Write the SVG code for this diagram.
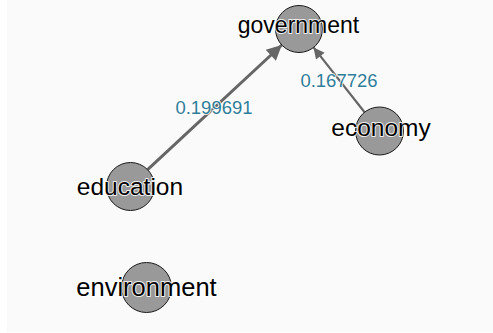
<svg xmlns="http://www.w3.org/2000/svg" width="493" height="333" viewBox="0 0 493 333">
<defs>
<marker id="ah1" viewBox="0 0 10 10" refX="10" refY="5" markerUnits="userSpaceOnUse" markerWidth="17" markerHeight="15" orient="auto">
<path d="M0,0 L10,5 L0,10 Z" fill="#666666"/>
</marker>
<marker id="ah2" viewBox="0 0 10 10" refX="10" refY="5" markerUnits="userSpaceOnUse" markerWidth="13" markerHeight="11" orient="auto">
<path d="M0,0 L10,5 L0,10 Z" fill="#666666"/>
</marker>
<style>
.node circle{fill:#999999;stroke:#1a1a1a;stroke-width:1}
.lbl{font-family:"Liberation Sans",Arial,sans-serif;fill:#000;text-anchor:middle;stroke:#ffffff;stroke-width:2;stroke-opacity:0.85;paint-order:stroke;stroke-linejoin:round}
.elbl{font-family:"Liberation Sans",Arial,sans-serif;fill:#2f7d99;font-size:18.5px;text-anchor:middle;stroke:#ffffff;stroke-width:2;stroke-opacity:0.85;paint-order:stroke;stroke-linejoin:round}
.edge{stroke:#666666;fill:none}
</style>
</defs>
<rect x="0" y="0" width="493" height="333" fill="#ffffff"/>
<rect x="7" y="0" width="486" height="332" fill="#fafafa"/>
<g id="connectors">
<line class="edge" x1="147.6" y1="169.7" x2="281.8" y2="45" stroke-width="3" marker-end="url(#ah1)"/>
<line class="edge" x1="364.6" y1="112.2" x2="313.5" y2="47.4" stroke-width="2.2" marker-end="url(#ah2)"/>
</g>
<g id="node-government" class="node">
<circle cx="299" cy="29" r="23.5"/>
</g>
<g id="node-economy" class="node">
<circle cx="379.5" cy="131" r="24"/>
</g>
<g id="node-education" class="node">
<circle cx="130.5" cy="186.5" r="24"/>
</g>
<g id="node-environment" class="node">
<circle cx="146.5" cy="287.5" r="25"/>
</g>
<g id="edge-labels">
<text class="elbl" x="214" y="114">0.199691</text>
<text class="elbl" x="339" y="86.7">0.167726</text>
</g>
<g id="node-labels">
<text class="lbl" x="298.5" y="33.3" font-size="23px">government</text>
<text class="lbl" x="381" y="135.7" font-size="24.5px">economy</text>
<text class="lbl" x="130" y="195" font-size="24.5px">education</text>
<text class="lbl" x="146.5" y="296" font-size="25.5px">environment</text>
</g>
</svg>
